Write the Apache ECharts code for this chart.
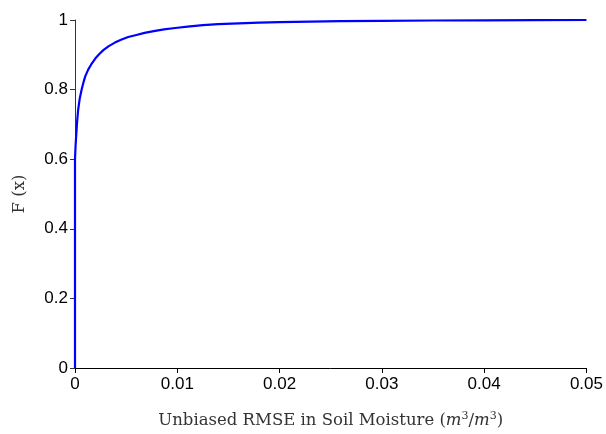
<!DOCTYPE html>
<html>
<head>
<meta charset="utf-8">
<script src="https://cdn.jsdelivr.net/npm/echarts@6/dist/echarts.min.js"></script>
<style>html,body{margin:0;padding:0;background:#fff;overflow:hidden}#c{width:606px;height:434px}</style>
</head>
<body>
<div id="c"></div>
<script>
var rmse = [0, 0, 0.00005, 0.0001, 0.0002, 0.0003, 0.00045, 0.00065, 0.00085, 0.001, 0.0013, 0.0016, 0.002, 0.0024, 0.0028, 0.0033, 0.0039, 0.0045, 0.0052, 0.006, 0.0068, 0.0077, 0.0087, 0.0098, 0.011, 0.0125, 0.014, 0.016, 0.018, 0.02, 0.023, 0.026, 0.03, 0.035, 0.04, 0.045, 0.05];
var cdf = [0, 0.6, 0.635, 0.66, 0.705, 0.74, 0.772, 0.8, 0.823, 0.838, 0.858, 0.873, 0.89, 0.903, 0.914, 0.925, 0.935, 0.943, 0.951, 0.957, 0.963, 0.968, 0.973, 0.977, 0.981, 0.985, 0.988, 0.9905, 0.9925, 0.994, 0.9955, 0.9965, 0.9975, 0.9985, 0.9992, 0.9997, 1.0];
var xTicks = [0, 0.01, 0.02, 0.03, 0.04, 0.05];
var yTicks = [0, 0.2, 0.4, 0.6, 0.8, 1];

var pts = rmse.map(function (x, i) { return [x, cdf[i]]; });
var chart = echarts.init(document.getElementById('c'), null, {renderer: 'canvas'});
chart.setOption({
  animation: false,
  grid: {left: 75, right: 18, top: 20, bottom: 54, containLabel: false},
  xAxis: {
    type: 'value', min: xTicks[0], max: xTicks[xTicks.length - 1], interval: 0.01,
    splitLine: {show: false},
    axisLine: {lineStyle: {color: '#000', width: 1}},
    axisTick: {show: true, length: 5, inside: false, lineStyle: {color: '#000'}},
    axisLabel: {color: '#000', fontFamily: 'Liberation Sans', fontSize: 17, margin: 8},
    name: '{t|Unbiased RMSE in Soil Moisture (}{i|m}{s|3}{t|/}{i|m}{s|3}{t|)}',
    nameLocation: 'middle', nameGap: 43,
    nameTextStyle: {
      rich: {
        t: {fontFamily: 'DejaVu Serif', fontSize: 16.5, color: '#333'},
        i: {fontFamily: 'DejaVu Serif', fontStyle: 'italic', fontSize: 16.5, color: '#333'},
        s: {fontFamily: 'DejaVu Serif', fontSize: 11, color: '#333', verticalAlign: 'top', padding: [0, 0, 8, 0]}
      }
    }
  },
  yAxis: {
    type: 'value', min: yTicks[0], max: yTicks[yTicks.length - 1], interval: 0.2,
    splitLine: {show: false},
    axisLine: {show: true, lineStyle: {color: '#333', width: 1}},
    axisTick: {show: true, length: 5, inside: false, lineStyle: {color: '#333'}},
    axisLabel: {color: '#000', fontFamily: 'Liberation Sans', fontSize: 17, margin: 7},
    name: 'F (x)', nameLocation: 'middle', nameGap: 47, nameRotate: 90,
    nameTextStyle: {fontFamily: 'DejaVu Serif', fontSize: 16.5, color: '#333'}
  },
  series: [{
    type: 'line', data: pts, showSymbol: false, smooth: false,
    lineStyle: {color: '#0000ff', width: 2.2},
    clip: false
  }]
});
</script>
</body>
</html>
